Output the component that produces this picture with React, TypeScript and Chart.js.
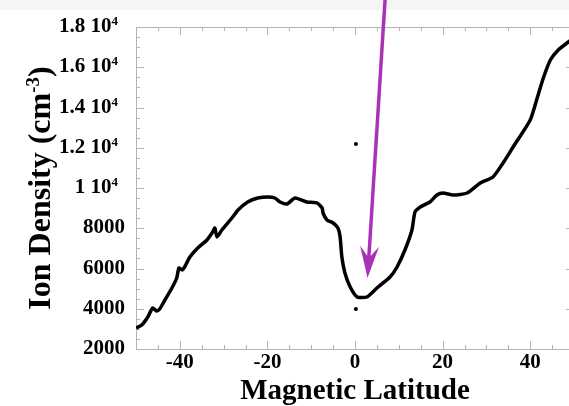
import React, { useEffect, useRef } from "react";
import { Chart, registerables } from "chart.js";

Chart.register(...registerables);

// ---- data ----
const latitudes = [
  -50, -48.7, -47.3, -46.2, -45.3, -44.6, -43.4, -41.8, -40.7, -40.2, -39.5, -38.9,
  -37.7, -35.9, -33.8, -32.5, -32.0, -31.5, -30.4, -28.1, -26.7, -24.5, -22.2, -19.9,
  -18.3, -17.1, -15.5, -13.7, -11.0, -8.7, -7.5, -7.3, -6.4, -5.0, -3.9, -3.4, -3.0,
  -2.3, -1.1, 0.5, 2.7, 5.0, 8.0, 9.6, 11.4, 13.0, 13.7, 14.9, 17.1, 18.7, 20.1, 22.4,
  25.6, 28.6, 31.5, 33.8, 36.1, 40.0, 41.6, 43.0, 44.6, 46.4, 48.7, 50,
];
const densities = [
  3043, 3193, 3590, 4037, 3888, 3988, 4435, 5031, 5528, 6025, 5926, 6075,
  6571, 7019, 7416, 7814, 8012, 7565, 7913, 8509, 8907, 9304, 9503, 9553,
  9503, 9304, 9205, 9503, 9304, 9255, 9006, 8758, 8410, 8261, 8012, 7565, 6571,
  5777, 5081, 4584, 4584, 5031, 5578, 6075, 6919, 7913, 8807, 9056, 9304, 9652, 9752, 9652,
  9752, 10249, 10547, 11242, 12037, 13379, 14472, 15466, 16361, 16857, 17255, 17450,
];
const outlierLatitudes = [0.2, 0.2];
const outlierDensities = [12186, 3988];

const xTickValues = [-40, -20, 0, 20, 40];
const xTickLabels = ["-40", "-20", "0", "20", "40"];
const yTickValues = [2000, 4000, 6000, 8000, 10000, 12000, 14000, 16000, 18000];
const yTickMain = ["2000", "4000", "6000", "8000", "1 10", "1.2 10", "1.4 10", "1.6 10", "1.8 10"];
const yTickSup = ["", "", "", "", "4", "4", "4", "4", "4"];

// arrow annotation, in data coordinates
const arrowTail = { x: 6.86, y: 19342 };
const arrowTip = { x: 2.86, y: 5528 };

const FONT = "'Liberation Serif', 'Times New Roman', serif";

const decorPlugin = {
  id: "decor",
  beforeDatasetsDraw(chart: any) {
    const { ctx, chartArea: a, scales } = chart;
    const xs = scales.x;
    const ys = scales.y;
    ctx.save();
    ctx.strokeStyle = "#b4b4b4";
    ctx.lineWidth = 1;
    ctx.beginPath();
    ctx.rect(Math.round(a.left) + 0.5, Math.round(a.top) + 0.5, Math.round(a.right - a.left), Math.round(a.bottom - a.top));
    ctx.stroke();
    for (let v = -50; v <= 50; v += 5) {
      const px = Math.round(xs.getPixelForValue(v)) + 0.5;
      const len = v % 20 === 0 ? 8 : 4;
      ctx.beginPath();
      ctx.moveTo(px, a.bottom);
      ctx.lineTo(px, a.bottom - len);
      ctx.moveTo(px, a.top);
      ctx.lineTo(px, a.top + len);
      ctx.stroke();
    }
    for (let v = 2000; v <= 18000; v += 500) {
      const py = Math.round(ys.getPixelForValue(v)) + 0.5;
      const len = v % 2000 === 0 ? 8 : 4;
      ctx.beginPath();
      ctx.moveTo(a.left, py);
      ctx.lineTo(a.left + len, py);
      ctx.moveTo(a.right, py);
      ctx.lineTo(a.right - len, py);
      ctx.stroke();
    }
    ctx.restore();
  },
  afterDatasetsDraw(chart: any) {
    const { ctx, chartArea: a, scales } = chart;
    const xs = scales.x;
    const ys = scales.y;
    ctx.save();
    ctx.fillStyle = "#000";
    ctx.font = `bold 21px ${FONT}`;
    ctx.textAlign = "center";
    ctx.textBaseline = "alphabetic";
    xTickValues.forEach((v, i) => {
      ctx.fillText(xTickLabels[i], xs.getPixelForValue(v), a.bottom + 19);
    });
    yTickValues.forEach((v, i) => {
      const py = ys.getPixelForValue(v) + 5;
      ctx.textAlign = "left";
      if (yTickSup[i]) {
        ctx.font = `bold 21px ${FONT}`;
        const wMain = ctx.measureText(yTickMain[i]).width;
        ctx.font = `bold 13px ${FONT}`;
        const wSup = ctx.measureText(yTickSup[i]).width;
        const right = a.left - 18;
        const start = right - wSup - wMain;
        ctx.font = `bold 21px ${FONT}`;
        ctx.fillText(yTickMain[i], start, py);
        ctx.font = `bold 13px ${FONT}`;
        ctx.fillText(yTickSup[i], start + wMain, py - 7);
      } else {
        ctx.font = `bold 21px ${FONT}`;
        ctx.textAlign = "right";
        ctx.fillText(yTickMain[i], a.left - 11, py);
      }
    });
    ctx.font = `bold 29px ${FONT}`;
    ctx.textAlign = "center";
    ctx.fillText("Magnetic Latitude", xs.getPixelForValue(0), 399);
    ctx.save();
    ctx.translate(50, 188);
    ctx.rotate(-Math.PI / 2);
    ctx.textAlign = "left";
    const p1 = "Ion Density (cm";
    const p2 = "-3";
    const p3 = ")";
    ctx.font = `bold 32px ${FONT}`;
    const w1 = ctx.measureText(p1).width;
    const w3 = ctx.measureText(p3).width;
    ctx.font = `bold 19px ${FONT}`;
    const w2 = ctx.measureText(p2).width;
    let sx = -(w1 + w2 + w3) / 2;
    ctx.font = `bold 32px ${FONT}`;
    ctx.fillText(p1, sx, 0);
    sx += w1;
    ctx.font = `bold 19px ${FONT}`;
    ctx.fillText(p2, sx, -11);
    sx += w2;
    ctx.font = `bold 32px ${FONT}`;
    ctx.fillText(p3, sx, 0);
    ctx.restore();

    const tx = xs.getPixelForValue(arrowTail.x);
    const ty = ys.getPixelForValue(arrowTail.y);
    const hx = xs.getPixelForValue(arrowTip.x);
    const hy = ys.getPixelForValue(arrowTip.y);
    const dx = hx - tx;
    const dy = hy - ty;
    const len = Math.hypot(dx, dy);
    const ux = dx / len;
    const uy = dy / len;
    const nx = -uy;
    const ny = ux;
    const L = 32;
    const W = 9.5;
    const notch = 20;
    ctx.strokeStyle = "#a833b6";
    ctx.fillStyle = "#a833b6";
    ctx.lineWidth = 3.5;
    ctx.beginPath();
    ctx.moveTo(tx, ty);
    ctx.lineTo(hx - ux * notch, hy - uy * notch);
    ctx.stroke();
    ctx.beginPath();
    ctx.moveTo(hx, hy);
    ctx.lineTo(hx - ux * L + nx * W, hy - uy * L + ny * W);
    ctx.lineTo(hx - ux * notch, hy - uy * notch);
    ctx.lineTo(hx - ux * L - nx * W, hy - uy * L - ny * W);
    ctx.closePath();
    ctx.fill();
    ctx.restore();
  },
};

export default function App() {
  const ref = useRef<HTMLCanvasElement | null>(null);
  useEffect(() => {
    if (!ref.current) return;
    const chart = new Chart(ref.current, {
      type: "line",
      data: {
        datasets: [
          {
            type: "line",
            data: latitudes.map((x, i) => ({ x, y: densities[i] })),
            borderColor: "#000",
            borderWidth: 3.5,
            pointRadius: 0,
            tension: 0.2,
            fill: false,
          } as any,
          {
            type: "scatter",
            data: outlierLatitudes.map((x, i) => ({ x, y: outlierDensities[i] })),
            backgroundColor: "#000",
            borderWidth: 0,
            pointRadius: 2,
          } as any,
        ],
      },
      options: {
        responsive: false,
        animation: false,
        devicePixelRatio: 1,
        layout: { padding: { left: 136, top: 27, right: 6, bottom: 57 } },
        plugins: { legend: { display: false }, tooltip: { enabled: false } },
        scales: {
          x: { type: "linear", min: -50, max: 50, display: false },
          y: { type: "linear", min: 2000, max: 18000, display: false },
        },
      },
      plugins: [decorPlugin],
    });
    return () => chart.destroy();
  }, []);
  return (
    <div
      style={{
        position: "fixed",
        left: 0,
        top: 0,
        width: 569,
        height: 406,
        overflow: "hidden",
        background: "#fff",
      }}
    >
      <div style={{ position: "absolute", left: 0, top: 0, width: 569, height: 10, background: "#f5f5f5" }} />
      <canvas ref={ref} width={580} height={406} style={{ position: "absolute", left: 0, top: 0 }} />
    </div>
  );
}
